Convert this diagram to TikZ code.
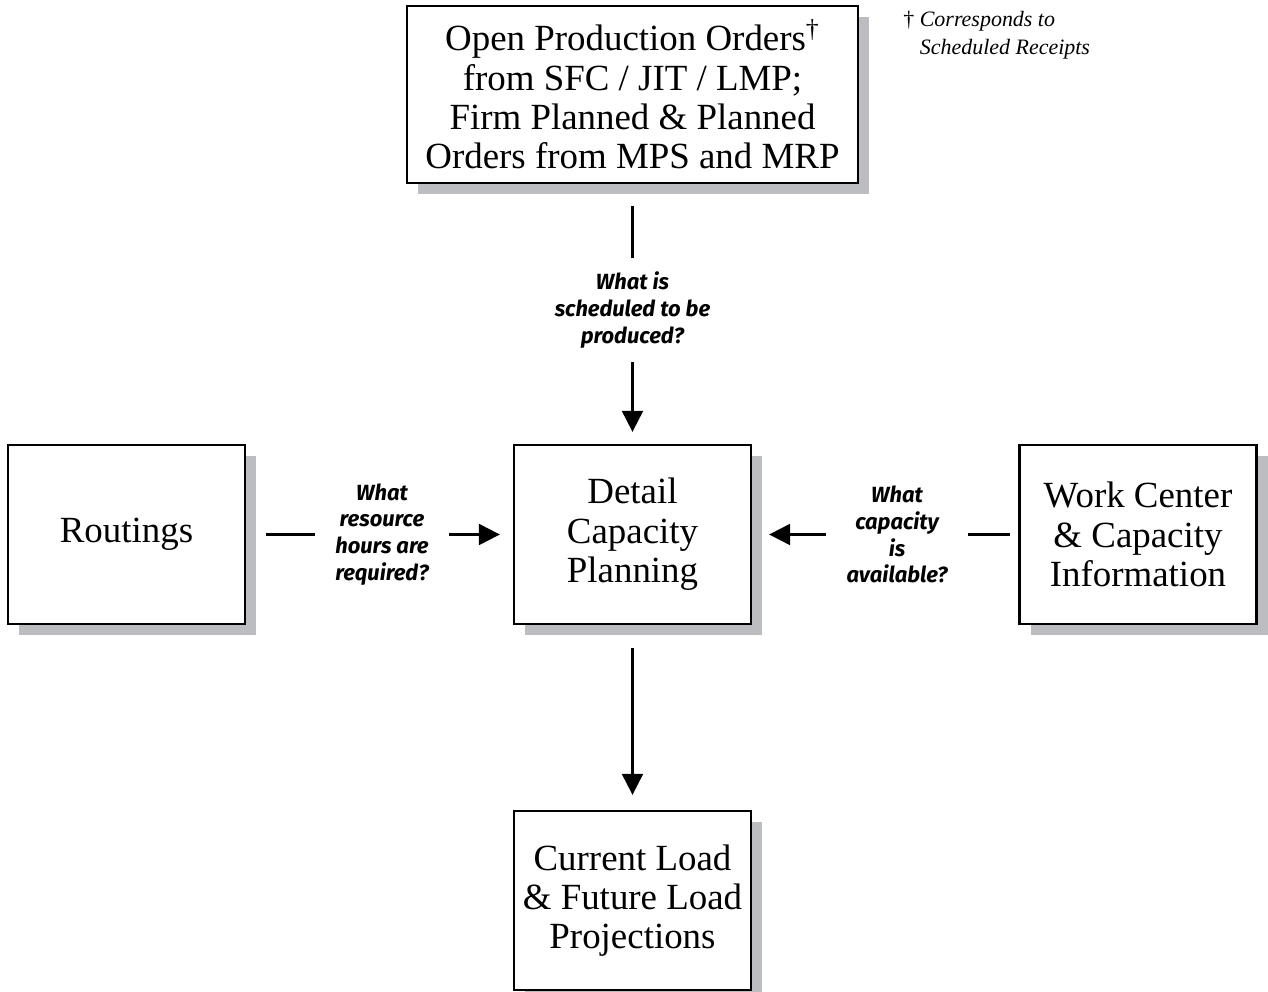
\documentclass[tikz,border=0pt]{standalone}
\usepackage{fontspec}
\newfontfamily\askfont{Fira Sans}
\newfontfamily\boxfont{Liberation Serif}
\usepackage{tikz}
\usetikzlibrary{arrows.meta}
\usetikzlibrary{shadows}
\definecolor{shade}{RGB}{188,189,192}
\tikzset{box/.style={draw, line width=1.3pt, fill=white, inner sep=2pt, minimum width=4.74cm, minimum height=3.58cm, align=center, font=\boxfont\fontsize{21}{22.4}\selectfont, drop shadow={shadow xshift=0.22cm, shadow yshift=-0.22cm, fill=shade, opacity=1}}}
\tikzset{ask/.style={inner sep=0, align=center, font=\askfont\bfseries\itshape\fontsize{12.5}{15.3}\selectfont}}
\tikzset{link/.style={line width=1.2pt}}
\tikzset{arrow/.style={line width=1.2pt, -{Triangle[length=0.42cm, width=0.42cm]}}}

\begin{document}
\begin{tikzpicture}
    \useasboundingbox (0, 0) rectangle (25.36, 19.82);

    \node [box, minimum width=9.02cm, minimum height=3.54cm] (orders) at (12.65, 17.93)
        {Open Production Orders\textsuperscript{\textdagger}\\ from SFC / JIT / LMP;\\ Firm Planned \& Planned\\ Orders from MPS and MRP};
    \node [box] (routings) at (2.53, 9.13) {Routings};
    \node [box] (dcp) at (12.65, 9.13) {Detail\\ Capacity\\ Planning};
    \node [box] (workcenter) at (22.76, 9.13) {Work Center\\ \& Capacity\\ Information};
    \node [box] (load) at (12.65, 1.81) {Current Load\\ \& Future Load\\ Projections};

    \node [ask, minimum height=2.08cm] (scheduled) at (12.65, 13.62) {What is\\ scheduled to be\\ produced?};
    \node [ask, minimum width=2.68cm] (required) at (7.64, 9.13) {What\\ resource\\ hours are\\ required?};
    \node [ask, minimum width=2.56cm] (available) at (17.94, 9.13) {What\\ capacity\\ is\\ available?};

    \node [anchor=north west, align=left, inner sep=0, font=\boxfont\fontsize{12.5}{15.9}\selectfont] (note) at (18.06, 19.6)
        {\textdagger\ \textit{Corresponds to}\\ \hphantom{\textdagger\ }\textit{Scheduled Receipts}};

    \draw [link, shorten <=0.44cm] (orders) -- (scheduled);
    \draw [arrow, shorten >=0.24cm] (scheduled) -- (dcp);
    \draw [link, shorten <=0.4cm] (routings) -- (required);
    \draw [arrow, shorten >=0.26cm] (required) -- (dcp);
    \draw [link, shorten <=0.16cm, shorten >=0.14cm] (workcenter) -- (available);
    \draw [arrow, shorten <=0.14cm, shorten >=0.34cm] (available) -- (dcp);
    \draw [arrow, shorten <=0.46cm, shorten >=0.3cm] (dcp) -- (load);

\end{tikzpicture}
\end{document}
